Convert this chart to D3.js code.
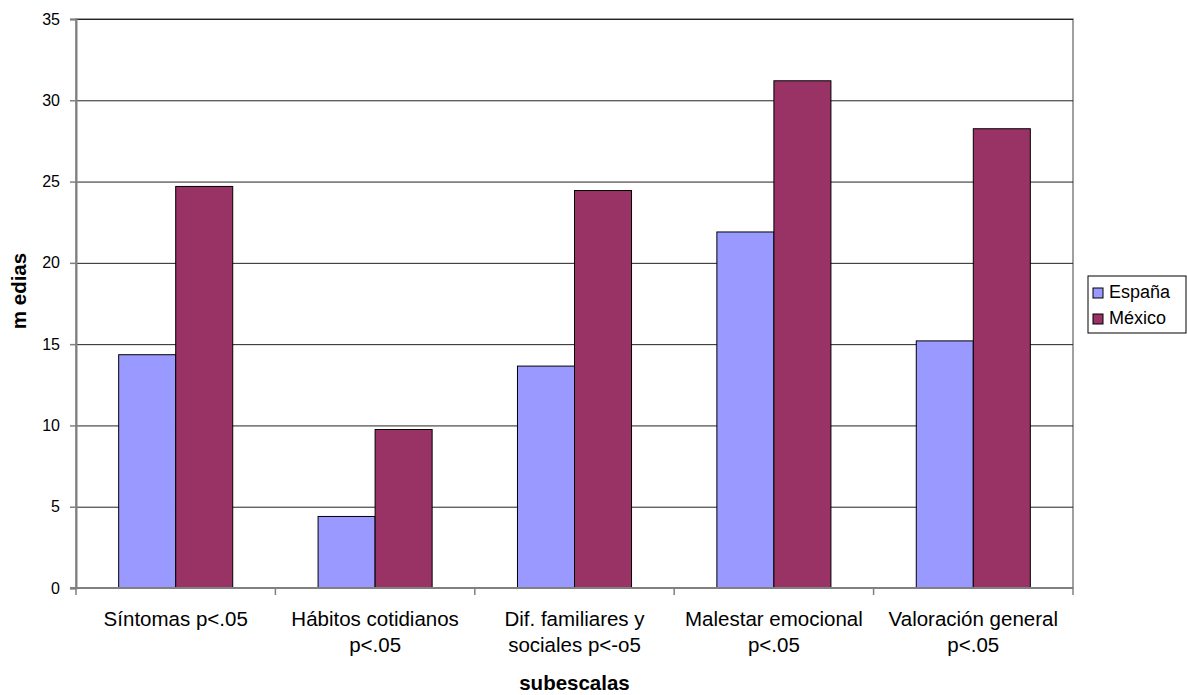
<!doctype html>
<html lang="es">
<head>
<meta charset="utf-8">
<title>medias por subescalas</title>
<script src="https://cdnjs.cloudflare.com/ajax/libs/d3/7.8.5/d3.min.js"></script>
<style>
  body { margin: 0; background: #fff; }
  text { font-family: "Liberation Sans", Arial, sans-serif; fill: #000; }
</style>
</head>
<body>
<svg width="1187" height="695" id="svg"></svg>
<script>
  var categories = [
    ['Síntomas p<.05'],
    ['Hábitos cotidianos', 'p<.05'],
    ['Dif. familiares y', 'sociales p<-o5'],
    ['Malestar emocional', 'p<.05'],
    ['Valoración general', 'p<.05']
  ];
  var series = ['España', 'México'];
  var espana = [14.35, 4.4, 13.65, 21.9, 15.2];
  var mexico = [24.7, 9.75, 24.45, 31.2, 28.25];
  var yTicks = [0, 5, 10, 15, 20, 25, 30, 35];
  var colors = ['#9999ff', '#993366'];

  var svg = d3.select('#svg');
  // plot area edges ("top" is a reserved window global, so prefixed names)
  var pLeft = 76, pRight = 1073, pTop = 19, pBottom = 588;
  var keys = categories.map(function(c) { return c.join(' '); });

  var y = d3.scaleLinear().domain([0, 35]).range([pBottom, pTop]);

  var x0 = d3.scaleBand()
    .domain(keys)
    .range([pLeft, pRight])
    .paddingInner(0.428)
    .paddingOuter(0.214);

  var x1 = d3.scaleBand()
    .domain(series)
    .range([0, x0.bandwidth()]);

  // plot area border
  svg.append('rect')
    .attr('x', pLeft).attr('y', pTop)
    .attr('width', pRight - pLeft).attr('height', pBottom - pTop)
    .attr('fill', 'none').attr('stroke', '#808080').attr('stroke-width', 1.5);

  // gridlines
  svg.append('g').selectAll('line')
    .data(yTicks.slice(1))
    .enter().append('line')
    .attr('x1', pLeft).attr('x2', pRight)
    .attr('y1', function(d) { return y(d) + 0.5; })
    .attr('y2', function(d) { return y(d) + 0.5; })
    .attr('stroke', '#222').attr('stroke-width', 1);

  // bars
  var data = keys.map(function(k, i) {
    return { key: k, vals: [espana[i], mexico[i]] };
  });

  var groups = svg.append('g').selectAll('g')
    .data(data)
    .enter().append('g')
    .attr('transform', function(d) { return 'translate(' + x0(d.key) + ',0)'; });

  groups.selectAll('rect')
    .data(function(d) { return d.vals.map(function(v, j) { return { s: series[j], v: v, j: j }; }); })
    .enter().append('rect')
    .attr('x', function(d) { return x1(d.s); })
    .attr('y', function(d) { return y(d.v); })
    .attr('width', x1.bandwidth())
    .attr('height', function(d) { return pBottom - y(d.v); })
    .attr('fill', function(d) { return colors[d.j]; })
    .attr('stroke', '#000').attr('stroke-width', 1);

  // y axis
  var yAxis = d3.axisLeft(y).tickValues(yTicks).tickSize(6).tickPadding(10);
  var gy = svg.append('g').attr('transform', 'translate(' + pLeft + ',0)').call(yAxis);
  gy.select('.domain').attr('stroke', '#808080').attr('stroke-width', 2);
  gy.selectAll('.tick line').attr('stroke', '#808080').attr('stroke-width', 1.5);
  gy.selectAll('.tick text').style('font-size', '16px').attr('font-family', null);

  // x axis
  var xAxisLine = svg.append('g');
  xAxisLine.append('line')
    .attr('x1', pLeft - 6).attr('x2', pRight)
    .attr('y1', pBottom).attr('y2', pBottom)
    .attr('stroke', '#808080').attr('stroke-width', 2);
  var step = x0.step();
  xAxisLine.selectAll('.xt')
    .data(d3.range(keys.length + 1))
    .enter().append('line')
    .attr('class', 'xt')
    .attr('x1', function(i) { return pLeft + i * step; })
    .attr('x2', function(i) { return pLeft + i * step; })
    .attr('y1', pBottom).attr('y2', pBottom + 7)
    .attr('stroke', '#808080').attr('stroke-width', 1.5);

  var labels = svg.append('g').selectAll('text')
    .data(categories)
    .enter().append('text')
    .attr('text-anchor', 'middle')
    .style('font-size', '20.5px')
    .attr('transform', function(d, i) { return 'translate(' + (x0(keys[i]) + x0.bandwidth() / 2) + ',626)'; });
  labels.selectAll('tspan')
    .data(function(d) { return d; })
    .enter().append('tspan')
    .attr('x', 0)
    .attr('dy', function(d, i) { return i === 0 ? 0 : 26; })
    .text(function(d) { return d; });

  // axis titles
  svg.append('text')
    .attr('x', (pLeft + pRight) / 2).attr('y', 690)
    .attr('text-anchor', 'middle')
    .style('font-size', '20.5px').style('font-weight', 'bold')
    .text('subescalas');

  svg.append('text')
    .attr('transform', 'translate(26,291) rotate(-90)')
    .attr('text-anchor', 'middle')
    .style('font-size', '20.5px').style('font-weight', 'bold')
    .text('m edias');

  // legend
  var legend = svg.append('g');
  legend.append('rect')
    .attr('x', 1088).attr('y', 276).attr('width', 98).attr('height', 57)
    .attr('fill', '#fff').attr('stroke', '#000').attr('stroke-width', 1);
  var items = legend.selectAll('g.item')
    .data(series)
    .enter().append('g')
    .attr('class', 'item')
    .attr('transform', function(d, i) { return 'translate(1093,' + (288 + i * 26) + ')'; });
  items.append('rect')
    .attr('width', 10).attr('height', 10)
    .attr('fill', function(d, i) { return colors[i]; })
    .attr('stroke', '#000').attr('stroke-width', 1);
  items.append('text')
    .attr('x', 16).attr('y', 10)
    .style('font-size', '18px')
    .text(function(d) { return d; });
</script>
</body>
</html>
